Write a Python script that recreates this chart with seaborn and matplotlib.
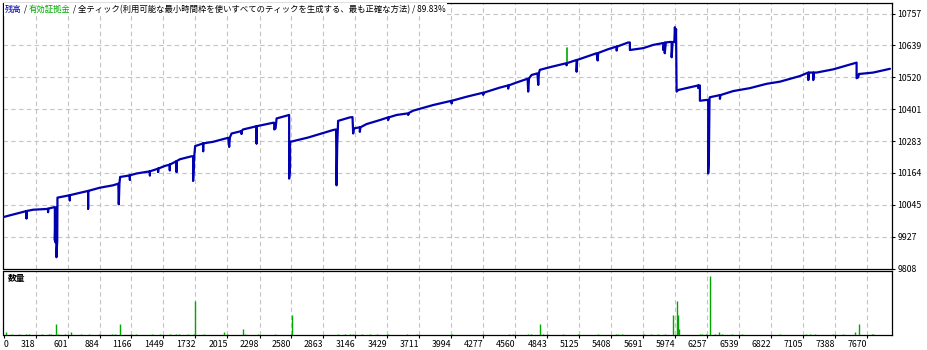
import matplotlib
matplotlib.use("Agg")
import matplotlib.pyplot as plt
import seaborn as sns
import pandas as pd

sns.set_theme(style="white")
plt.rcParams['font.family'] = ['Noto Sans CJK JP', 'DejaVu Sans']

# ---------------- data ----------------
balance_x = [38, 91, 238, 238, 238, 297, 415, 429, 429, 429,
             489, 489, 495, 495, 503, 503, 510, 512,
             621, 621, 621, 680, 783, 783, 783, 887, 1004,
             1050, 1054, 1060, 1066, 1152, 1152, 1152, 1211,
             1329, 1329, 1329, 1402, 1402, 1402, 1461,
             1505, 1505, 1505, 1565, 1565, 1565, 1594, 1697,
             1711, 1711, 1722, 1729, 1800, 1800, 1800, 1888,
             2021, 2030, 2036, 2051, 2139, 2139, 2139, 2153,
             2272, 2272, 2272, 2419, 2428, 2428, 2440, 2449,
             2560, 2560, 2568, 2568, 2581, 2728, 2949,
             2975, 2979, 2985, 2990, 2993, 3097,
             3120, 3126, 3132, 3185, 3185, 3190, 3244, 3362,
             3435, 3435, 3440, 3510, 3612, 3612, 3620, 3656, 3833,
             3996, 3996, 4000, 4129, 4275, 4275, 4280, 4423,
             4496, 4496, 4500, 4571, 4668, 4673, 4680, 4703,
             4755, 4762, 4768, 4776, 4865, 5012, 5012, 5016,
             5101, 5101, 5106, 5189, 5278, 5287, 5292, 5380,
             5455, 5455, 5460, 5557, 5572, 5572, 5690, 5778,
             5867, 5867, 5880, 5880, 5890, 5926, 5941, 5941, 5950,
             5965, 5970, 5975, 5980, 5985, 5999, 6073,
             6176, 6176, 6180, 6191, 6191, 6250,
             6264, 6264, 6270, 6276, 6279, 6368, 6368, 6372,
             6485, 6633, 6780, 6898, 7075, 7149, 7149, 7155,
             7193, 7193, 7198, 7223, 7370, 7576, 7576, 7590, 7597,
             7606, 7723, 7871]
balance_y = [10000, 10006, 10022, 9995, 10022, 10027, 10030, 10030, 10018, 10031,
             10037, 9913, 10030, 9905, 10035, 9850, 9913, 10072,
             10081, 10062, 10081, 10087, 10097, 10031, 10097, 10109, 10118,
             10124, 10047, 10126, 10149, 10155, 10139, 10155, 10162,
             10170, 10155, 10170, 10180, 10168, 10180, 10190,
             10195, 10174, 10195, 10208, 10168, 10208, 10215, 10226,
             10226, 10134, 10230, 10264, 10274, 10245, 10274, 10280,
             10295, 10261, 10296, 10311, 10320, 10310, 10320, 10326,
             10338, 10274, 10338, 10351, 10351, 10326, 10330, 10367,
             10380, 10143, 10190, 10280, 10281, 10296, 10324,
             10326, 10118, 10268, 10330, 10358, 10371,
             10372, 10311, 10330, 10334, 10317, 10334, 10346, 10361,
             10371, 10361, 10371, 10380, 10386, 10380, 10388, 10396, 10417,
             10433, 10423, 10433, 10448, 10463, 10455, 10463, 10482,
             10490, 10478, 10490, 10501, 10515, 10467, 10516, 10529,
             10535, 10492, 10536, 10548, 10558, 10573, 10565, 10573,
             10585, 10541, 10585, 10597, 10610, 10583, 10611, 10625,
             10635, 10620, 10635, 10650, 10650, 10622, 10629, 10641,
             10648, 10622, 10650, 10610, 10650, 10652, 10652, 10595, 10652,
             10652, 10707, 10650, 10700, 10467, 10473, 10480,
             10490, 10480, 10490, 10490, 10433, 10436,
             10436, 10162, 10211, 10440, 10446, 10454, 10440, 10454,
             10469, 10480, 10496, 10504, 10525, 10538, 10510, 10538,
             10538, 10510, 10538, 10538, 10550, 10575, 10517, 10520, 10533,
             10533, 10538, 10552]

equity_x = [5012, 5012]
equity_y = [10573, 10629]

volume_x = [55, 111, 173, 238, 262, 376, 433, 459, 500, 518, 577, 633, 716, 795, 875,
            993, 1019, 1066, 1158, 1202, 1344, 1417, 1508, 1556, 1585, 1662, 1720, 1729,
            1806, 1983, 2009, 2153, 2168, 2286, 2434, 2572, 2581, 2993, 3053, 3097, 3126,
            3200, 3274, 3333, 3435, 3598, 3686, 3996,
            4275, 4505, 4535, 4668, 4694, 4777, 4806, 4841, 4977, 5115, 5292, 5446, 5463,
            5501, 5699, 5755, 5817, 5884, 5955, 5985, 5994, 6008, 6191, 6209, 6242, 6279,
            6324, 6362, 6383, 6471, 6560, 6898, 7125, 7163, 7208, 7370, 7453, 7562, 7597,
            7714, 7723]
volume_lots = [0.04, 0.015, 0.015, 0.015, 0.015, 0.015, 0.015, 0.015, 0.16, 0.02, 0.015, 0.04, 0.015, 0.015, 0.015,
               0.015, 0.015, 0.16, 0.015, 0.015, 0.015, 0.015, 0.015, 0.015, 0.015, 0.015, 0.015, 0.48,
               0.015, 0.04, 0.015, 0.08, 0.015, 0.015, 0.015, 0.015, 0.28, 0.015, 0.015, 0.015, 0.015,
               0.015, 0.015, 0.015, 0.015, 0.015, 0.015, 0.015,
               0.015, 0.015, 0.015, 0.015, 0.015, 0.16, 0.015, 0.015, 0.015, 0.015, 0.015, 0.015, 0.015,
               0.015, 0.015, 0.015, 0.015, 0.015, 0.28, 0.48, 0.28, 0.08, 0.015, 0.015, 0.015, 0.82,
               0.015, 0.04, 0.015, 0.015, 0.015, 0.015, 0.015, 0.015, 0.015, 0.015, 0.015, 0.04, 0.16,
               0.015, 0.015]

x_tick_values = [35, 318, 601, 884, 1166, 1449, 1732, 2015, 2298, 2580, 2863, 3146, 3429,
                 3711, 3994, 4277, 4560, 4843, 5125, 5408, 5691, 5974, 6257, 6539, 6822,
                 7105, 7388, 7670]
x_tick_labels = ["0", "318", "601", "884", "1166", "1449", "1732", "2015", "2298", "2580",
                 "2863", "3146", "3429", "3711", "3994", "4277", "4560", "4843", "5125",
                 "5408", "5691", "5974", "6257", "6539", "6822", "7105", "7388", "7670"]
y_ticks = [9808, 9927, 10045, 10164, 10283, 10401, 10520, 10639, 10757]

# ---------------- figure ----------------
W, H = 928, 350
fig = plt.figure(figsize=(W / 100, H / 100), dpi=100)
fig.patch.set_facecolor("white")

L, R = 3.5, 892
ax = fig.add_axes([L / W, 1 - 268.5 / H, (R - L) / W, (268.5 - 2.5) / H])
axv = fig.add_axes([L / W, 1 - 335 / H, (R - L) / W, (335 - 270.5) / H])

BLUE = "#0000B0"
GREEN = "#00A800"
GRID = "#C4C4C4"
dash = (0, (4, 3))

bal = pd.DataFrame({"x": balance_x, "y": balance_y})
eq = pd.DataFrame({"x": equity_x, "y": equity_y})
sns.lineplot(data=eq, x="x", y="y", sort=False, estimator=None, color=GREEN,
             lw=1.2, ax=ax, legend=False, zorder=3)
sns.lineplot(data=bal, x="x", y="y", sort=False, estimator=None, color=BLUE,
             lw=1.6, ax=ax, legend=False, zorder=4)

xmin, xmax = 35, 7889
for a in (ax, axv):
    a.set_xlim(xmin, xmax)
    a.set_facecolor("white")
    for s in a.spines.values():
        s.set_visible(True)
        s.set_color("black")
        s.set_linewidth(0.9)
    a.set_xlabel("")
    a.set_ylabel("")
    for xv in x_tick_values[1:]:
        a.axvline(xv, color=GRID, lw=0.8, ls=dash, zorder=1)

ax.set_ylim(9808, 10799)
for yv in y_ticks[1:]:
    ax.axhline(yv, color=GRID, lw=0.8, ls=dash, zorder=1)

ax.yaxis.tick_right()
ax.set_yticks(y_ticks)
ax.set_yticklabels([str(v) for v in y_ticks])
ax.tick_params(axis="y", which="both", right=True, left=False, direction="out",
               length=2.5, width=0.8, pad=1.5, labelsize=6.3, colors="black")
ax.set_xticks([])

# title with white background
t = ax.text(0.002, 0.974, "残高", transform=ax.transAxes, fontsize=6, color=BLUE,
            va="center", ha="left", zorder=10,
            bbox=dict(facecolor="white", edgecolor="none", pad=1.2))
fig.canvas.draw()
rend = fig.canvas.get_renderer()

def after(prev, txt, color):
    bb = prev.get_window_extent(renderer=rend)
    x0 = ax.transAxes.inverted().transform((bb.x1, bb.y0))[0]
    nt = ax.text(x0, 0.974, txt, transform=ax.transAxes, fontsize=6, color=color,
                 va="center", ha="left", zorder=10,
                 bbox=dict(facecolor="white", edgecolor="none", pad=1.2))
    fig.canvas.draw()
    return nt

t = after(t, " / ", "black")
t = after(t, "有効証拠金", GREEN)
t = after(t, " / 全ティック(利用可能な最小時間枠を使いすべてのティックを生成する、最も正確な方法) / 89.83%", "black")

# volume panel
axv.vlines(volume_x, 0, volume_lots, color=GREEN, lw=1.0, zorder=3)
axv.set_ylim(0, 0.9)
axv.set_yticks([])
axv.set_xticks(x_tick_values)
axv.set_xticklabels(x_tick_labels)
axv.tick_params(axis="x", bottom=True, direction="out", length=2.5, width=0.8,
                pad=1.0, labelsize=6.3, colors="black")
labels = axv.get_xticklabels()
for i, lb in enumerate(labels):
    lb.set_ha("left" if i == 0 else "right")
axv.text(0.005, 0.87, "数量", transform=axv.transAxes, fontsize=6.3, color="black",
         va="center", ha="left", fontweight="bold")

fig.savefig("out.png", dpi=100, facecolor="white")
